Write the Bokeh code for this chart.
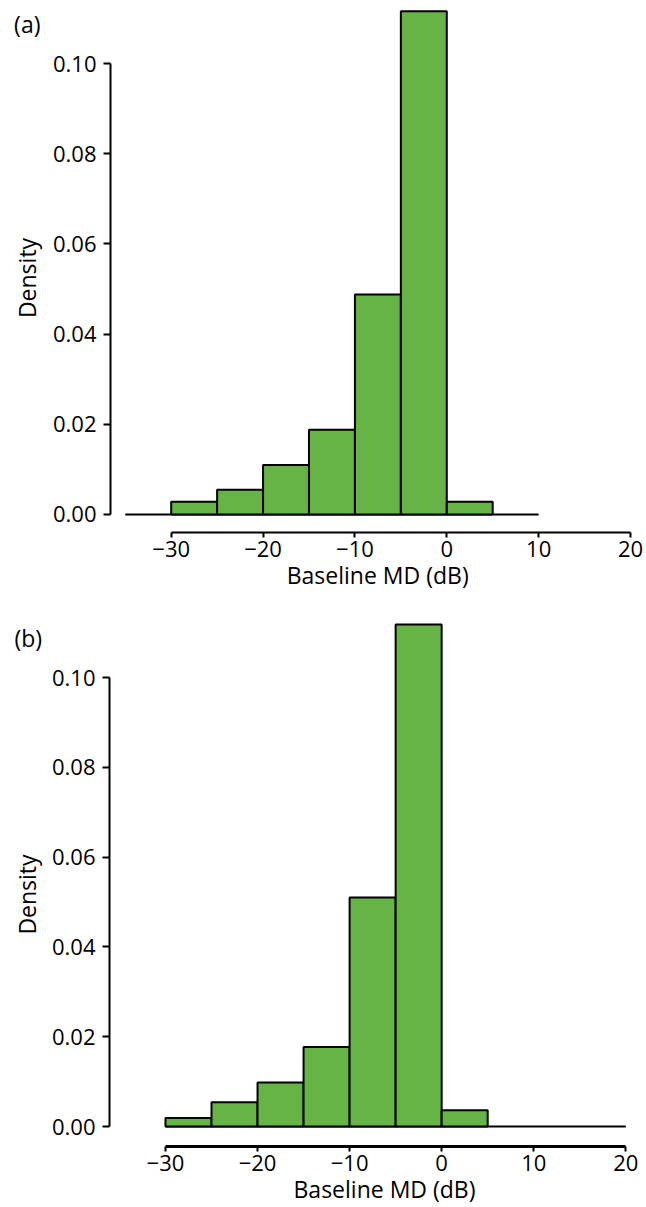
import math
from bokeh.plotting import figure
from bokeh.models import Range1d, FixedTicker, Label
from bokeh.layouts import column
from bokeh.embed import file_html
from bokeh.resources import INLINE

# ---- data ----
bin_edges = [-30, -25, -20, -15, -10, -5, 0, 5]
density_a = [0.0028, 0.0055, 0.0110, 0.0188, 0.0488, 0.1116, 0.0028]
density_b = [0.0019, 0.0054, 0.0098, 0.0177, 0.0510, 0.1118, 0.0036]
baseline_a = [-35, 10]
baseline_b = [-30, 20]
x_ticks = [-30, -20, -10, 0, 10, 20]
x_tick_labels = ["\u221230", "\u221220", "\u221210", "0", "10", "20"]
y_ticks = [0.0, 0.02, 0.04, 0.06, 0.08, 0.10]
y_tick_labels = ["0.00", "0.02", "0.04", "0.06", "0.08", "0.10"]
panel_labels = ["(a)", "(b)"]
x_title = "Baseline MD (dB)"
y_title = "Density"

FONT = "Open Sans"
FS = "22px"
FS_T = "23px"
GREEN = "#66b346"


def make_panel(dens, base, tag, height, xr, yr, y_axis_at, x_axis_at,
               tag_xy, dens_xy, title_xy, x_line_w):
    p = figure(width=646, height=height, output_backend="svg", toolbar_location=None,
               x_range=Range1d(*xr), y_range=Range1d(*yr),
               min_border_left=0, min_border_right=0,
               min_border_top=0, min_border_bottom=0)
    p.outline_line_color = None
    p.xgrid.visible = False
    p.ygrid.visible = False
    p.background_fill_color = "white"
    p.border_fill_color = "white"

    # baseline at zero
    p.line(x=base, y=[0, 0], line_color="black", line_width=2)
    # histogram bars
    p.quad(left=bin_edges[:-1], right=bin_edges[1:], bottom=0, top=dens,
           fill_color=GREEN, line_color="black", line_width=2)

    xa = p.xaxis[0]
    xa.fixed_location = x_axis_at
    xa.ticker = FixedTicker(ticks=x_ticks)
    xa.major_label_overrides = {t: l for t, l in zip(x_ticks, x_tick_labels)}
    xa.bounds = (x_ticks[0], x_ticks[-1])
    xa.minor_tick_line_color = None
    xa.major_tick_in = 0
    xa.major_tick_out = 5
    xa.major_tick_line_width = 2
    xa.axis_line_width = x_line_w
    xa.major_label_standoff = 4
    xa.major_label_text_font = FONT
    xa.major_label_text_font_size = FS
    xa.major_label_text_color = "black"

    ya = p.yaxis[0]
    ya.fixed_location = y_axis_at
    ya.ticker = FixedTicker(ticks=y_ticks)
    ya.major_label_overrides = {t: l for t, l in zip(y_ticks, y_tick_labels)}
    ya.bounds = (y_ticks[0], y_ticks[-1])
    ya.minor_tick_line_color = None
    ya.major_tick_in = 0
    ya.major_tick_out = 7
    ya.major_tick_line_width = 2
    ya.axis_line_width = 2
    ya.major_label_standoff = 7
    ya.major_label_text_font = FONT
    ya.major_label_text_font_size = FS
    ya.major_label_text_color = "black"

    p.add_layout(Label(x=tag_xy[0], y=tag_xy[1], text=tag, text_font=FONT,
                       text_font_size=FS_T, text_align="left", text_baseline="middle",
                       text_color="black"))
    p.add_layout(Label(x=dens_xy[0], y=dens_xy[1], text=y_title, text_font=FONT,
                       text_font_size=FS_T, text_align="center", text_baseline="middle",
                       angle=math.pi / 2, text_color="black"))
    p.add_layout(Label(x=title_xy[0], y=title_xy[1], text=x_title, text_font=FONT,
                       text_font_size=FS_T, text_align="center",
                       text_baseline="alphabetic", text_color="black"))
    return p


pa = make_panel(density_a, baseline_a, panel_labels[0], 600,
                (-48.58, 21.74), (-0.01907, 0.11397), -36.61, -0.00392,
                (-47.1, 0.10876), (-45.67, 0.05244), (-7.52, -0.01352), 2)
pb = make_panel(density_b, baseline_b, panel_labels[1], 607,
                (-47.92, 22.25), (-0.01804, 0.11715), -36.08, -0.004454,
                (-46.4, 0.10880), (-44.99, 0.05167), (-6.21, -0.01387), 3)

layout = column(pa, pb, spacing=0)
open("out.html", "w").write(file_html(layout, INLINE))
